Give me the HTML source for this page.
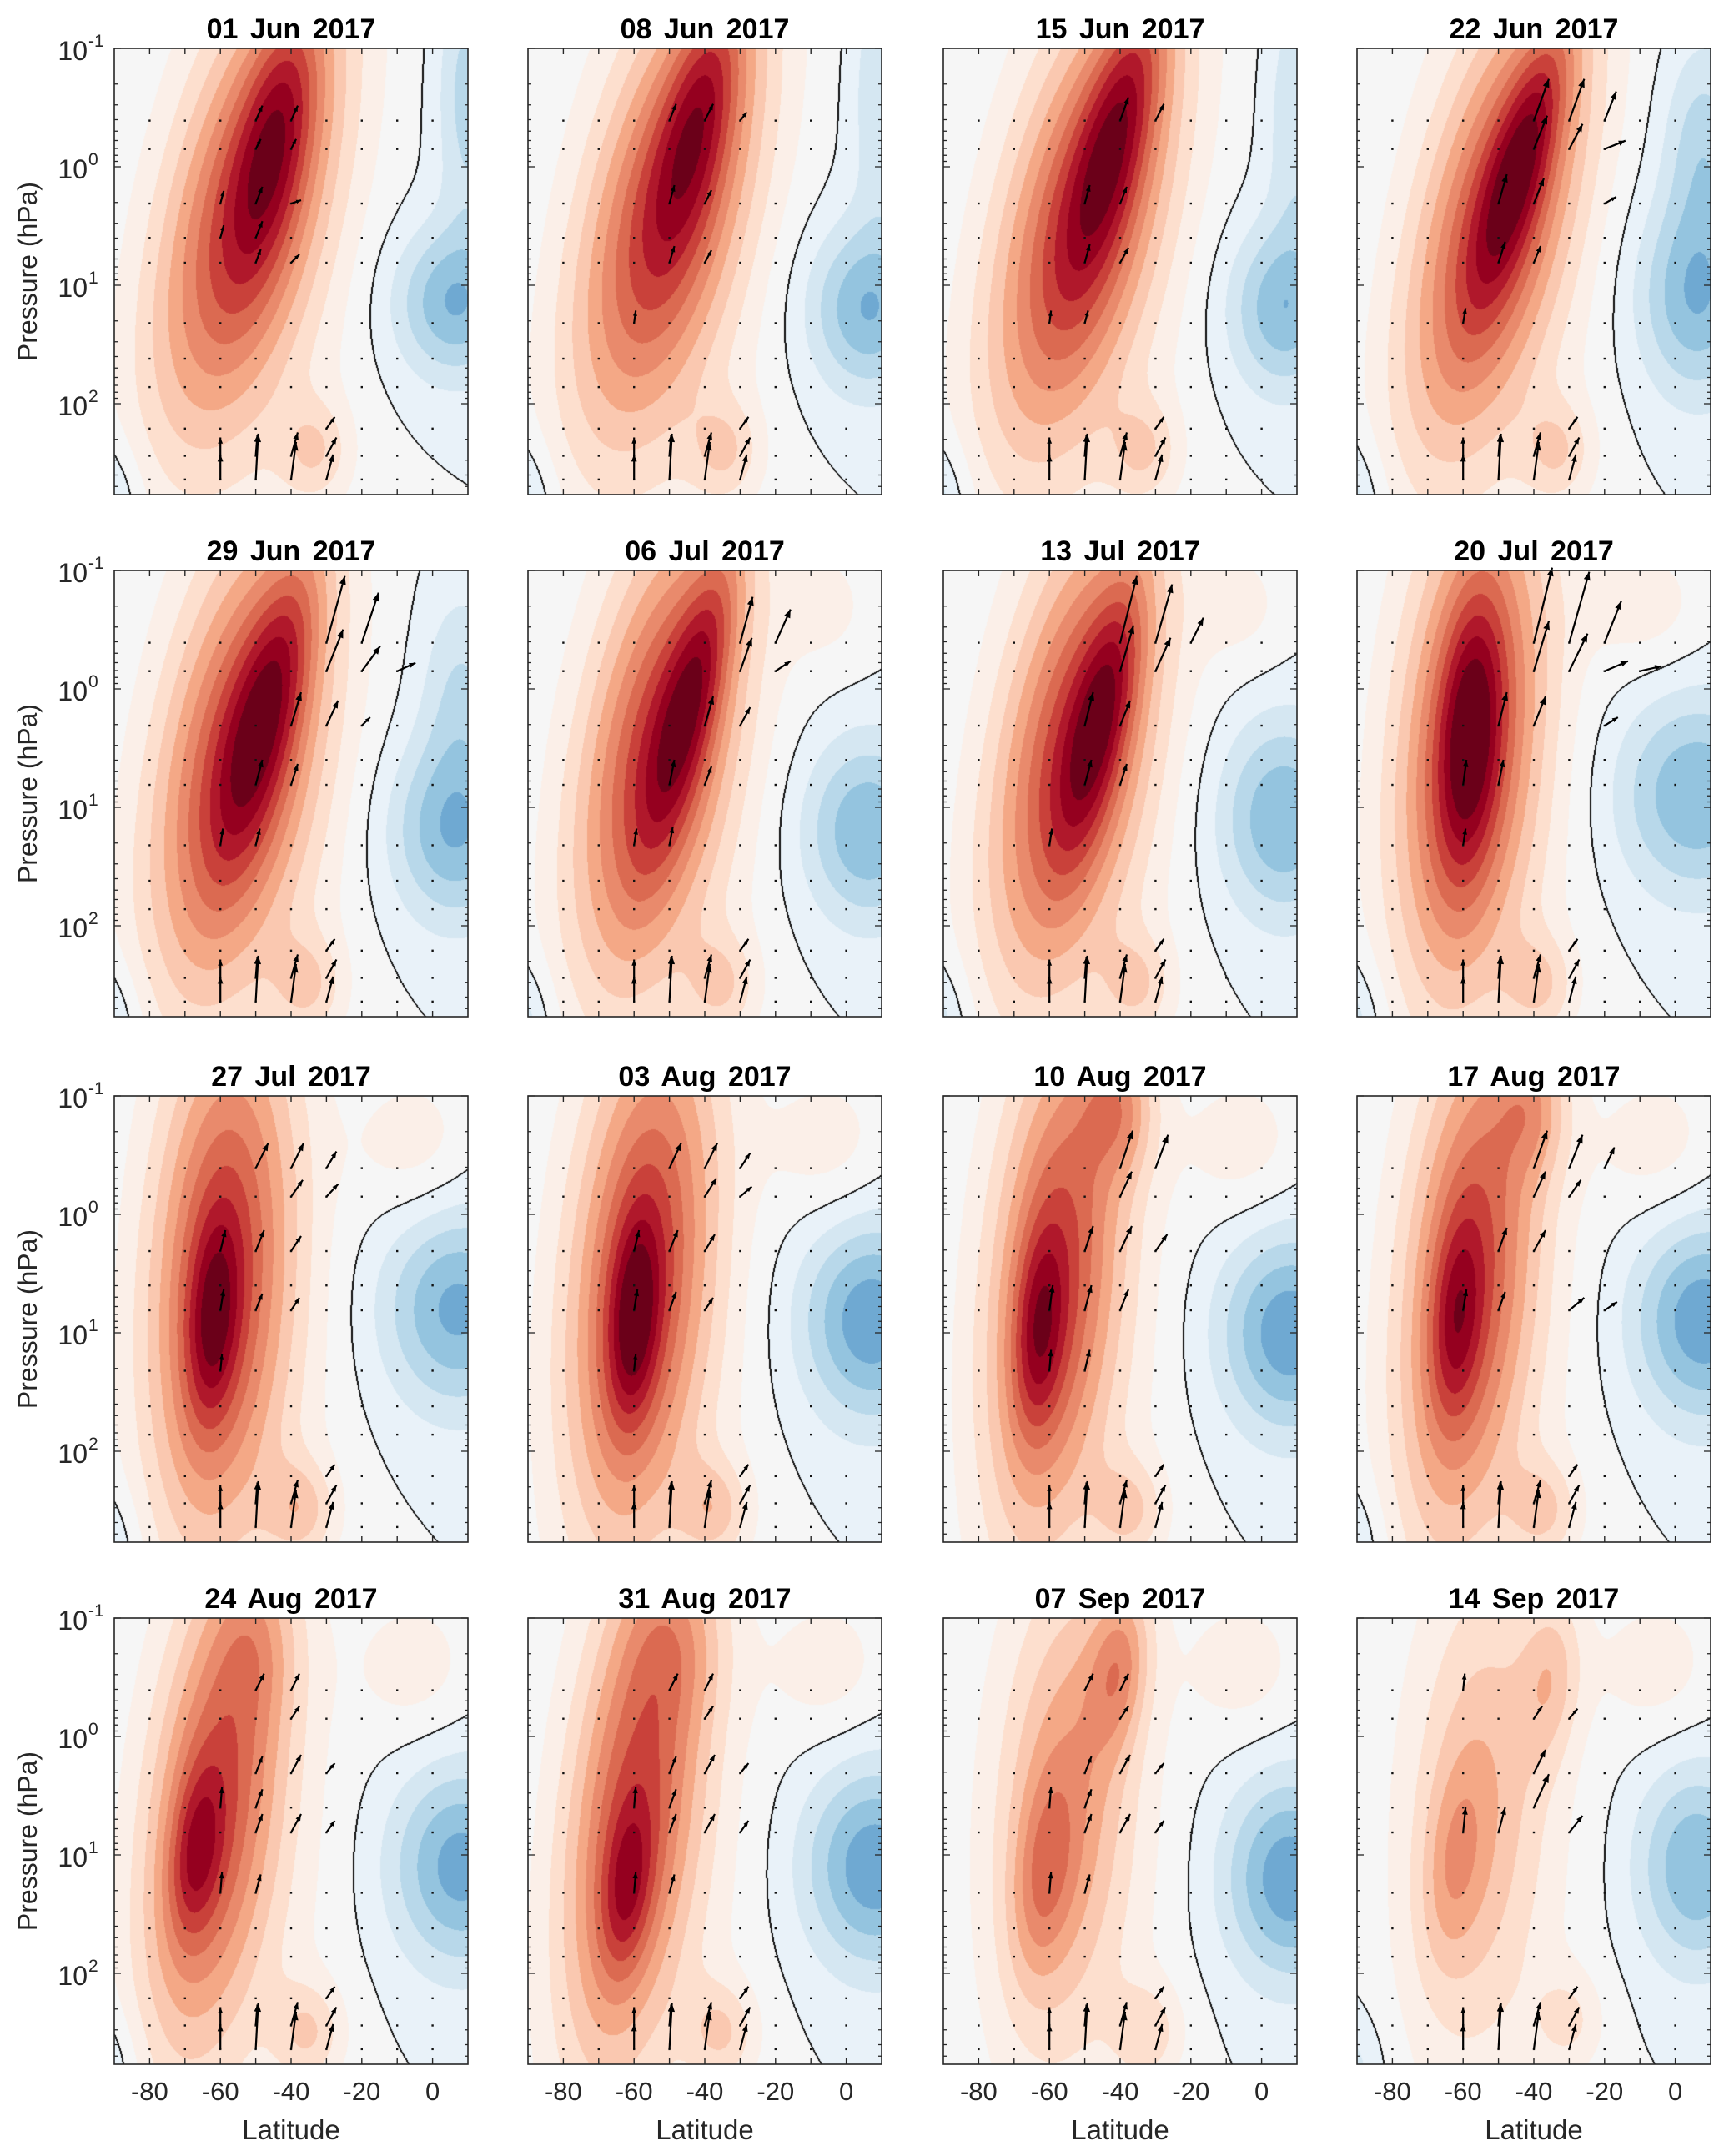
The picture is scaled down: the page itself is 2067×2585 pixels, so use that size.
<!DOCTYPE html>
<html><head><meta charset="utf-8">
<style>
html,body{margin:0;padding:0;background:#fff;}
#wrap{position:relative;width:2067px;height:2585px;overflow:hidden;}
canvas,svg{position:absolute;left:0;top:0;}
text{font-family:"Liberation Sans",Arial,sans-serif;}
</style></head>
<body>
<div id="wrap">
<canvas id="cv" width="2067" height="2585"></canvas>
<svg id="sv" width="2067" height="2585" xmlns="http://www.w3.org/2000/svg"></svg>
</div>
<script>
// ---- data ----
const titles = ["01 Jun 2017","08 Jun 2017","15 Jun 2017","22 Jun 2017","29 Jun 2017","06 Jul 2017","13 Jul 2017","20 Jul 2017","27 Jul 2017","03 Aug 2017","10 Aug 2017","17 Aug 2017","24 Aug 2017","31 Aug 2017","07 Sep 2017","14 Sep 2017"];
const xTicks = [-80,-60,-40,-20,0];
const yTickExp = [-1,0,1,2];
// blobs: [amplitude, lat, log10(p), sigmaLat, sigmaLogP, tilt]
const blobs = [
 [[3.5,-44,-0.3,7,0.8,-6],[6.5,-52,0.3,16,1.4,-8],[1.5,-50,1,20,2,0],[2.3,-33,2.4,7,0.3,0],[-4,6,1.15,12,0.45,0],[-2.5,-95,2.9,8,0.4,0],[-2.5,10,-0.6,6,0.8,0]],
 [[3.5,-41,-0.5,7,0.8,-7],[6.5,-50,0.3,16,1.4,-8],[1.5,-50,1,20,2,0],[2.3,-34,2.4,7,0.3,0],[-4,6,1.2,12,0.5,0],[-2.5,-95,2.9,8,0.4,0],[-2,10,-0.6,6,0.8,0]],
 [[4,-40,-0.4,7,0.9,-8],[6.5,-50,0.4,16,1.4,-8],[1.5,-50,1,20,2,0],[2.3,-33,2.4,7,0.3,0],[-3.8,6,1.2,11,0.5,0],[-2.5,-95,2.9,8,0.4,0],[-2,10,-0.4,6,0.8,0]],
 [[4,-43,-0.1,6,0.8,-9],[6.5,-50,0.4,15,1.4,-8],[1.5,-50,1,20,2,0],[2.3,-33,2.4,7,0.3,0],[-4,6,1.1,12,0.6,0],[-2.5,-95,2.9,8,0.4,0],[-2.5,8,-0.2,8,0.6,0]],
 [[4,-46,0.1,7,0.9,-8],[6.5,-55,0.6,16,1.4,-6],[1.5,-50,1,20,2,0],[2.3,-35,2.5,7,0.3,0],[-4,6,1.2,13,0.55,0],[-2.5,-95,2.9,8,0.4,0],[-2,8,0,8,0.6,0]],
 [[4,-43,0,6,0.9,-8],[6.5,-53,0.5,15,1.4,-6],[1.5,-50,1,20,2,0],[2.3,-35,2.5,7,0.3,0],[-4,6,1.2,13,0.55,0],[-2.5,-95,2.9,8,0.4,0],[1.2,-5,-0.7,10,0.4,0]],
 [[4,-45,0.2,6,0.8,-7],[6.5,-53,0.5,15,1.4,-6],[1.5,-50,1,20,2,0],[2.3,-35,2.5,7,0.3,0],[-4,6,1.1,13,0.6,0],[-2.5,-95,2.9,8,0.4,0],[1.2,-5,-0.7,10,0.4,0]],
 [[4,-58,0.4,6,0.8,-2],[6.5,-58,0.4,14,1.5,-3],[1.5,-55,1,20,2,0],[2.3,-38,2.5,7,0.3,0],[-4,6,0.9,16,0.6,0],[-2.5,-95,2.9,8,0.4,0],[1.5,-8,-0.7,12,0.4,0]],
 [[3.5,-62,0.9,5,0.6,-2],[6.5,-60,0.5,14,1.6,-2],[1.5,-55,1,20,2,0],[2.7,-37,2.5,7,0.3,0],[-4.3,7,0.8,15,0.6,0],[-2,-95,2.9,8,0.4,0],[1.5,-5,-0.6,12,0.45,0]],
 [[4,-60,0.9,5,0.6,-2],[6.5,-58,0.5,14,1.6,-3],[1.5,-55,1,20,2,0],[2.7,-37,2.5,7,0.3,0],[-4.8,7,0.9,14,0.6,0],[1.5,-5,-0.6,12,0.45,0]],
 [[3.5,-63,1.0,5,0.6,-2],[6,-58,0.5,13,1.6,-3],[3,-40,-0.9,7,0.4,0],[1.5,-55,1,20,2,0],[2.5,-37,2.5,7,0.3,0],[-4.8,8,1.0,14,0.6,0],[1.5,-5,-0.6,12,0.45,0]],
 [[3,-62,0.9,5,0.6,-2],[6,-58,0.5,13,1.6,-3],[2.5,-40,-0.9,7,0.4,0],[1.5,-55,1,20,2,0],[2.5,-37,2.5,7,0.3,0],[-4.8,8,0.9,14,0.6,0],[-2,-95,2.9,8,0.4,0],[1.5,-5,-0.6,12,0.45,0]],
 [[3,-67,1.0,5,0.5,-3],[6,-62,0.6,13,1.5,-4],[1.5,-50,-0.8,8,0.5,0],[1.5,-55,1,20,2,0],[2.5,-35,2.5,7,0.3,0],[-4.5,8,1.1,14,0.6,0],[-2,-95,2.9,8,0.4,0],[1.5,-5,-0.6,12,0.45,0]],
 [[3,-62,1.3,5,0.5,-3],[6,-60,0.6,13,1.6,-4],[1.5,-48,-0.8,10,0.5,0],[1.5,-55,1,20,2,0],[2.5,-35,2.5,7,0.3,0],[-4.8,8,1.1,14,0.6,0],[1.5,-5,-0.6,12,0.45,0]],
 [[3.5,-40,-0.6,6,0.5,-3],[2.5,-62,1.2,6,0.6,-3],[3.5,-55,0.5,13,1.4,-2],[1.5,-55,1,20,2,0],[2.2,-32,2.5,7,0.3,0],[-4.8,8,1.2,13,0.6,0],[1.5,-5,-0.6,12,0.45,0]],
 [[2.5,-35,-0.5,6,0.5,-2],[2,-63,1.1,6,0.6,-3],[2.5,-55,0.5,13,1.4,-2],[1.5,-55,1,20,2,0],[1.8,-30,2.4,7,0.3,0],[-4,6,1.1,12,0.6,0],[-2,-95,2.9,8,0.4,0],[1.5,-5,-0.6,12,0.45,0]]
];
const dotLats = [-80,-70,-60,-50,-40,-30,-20,-10,0];
const dotZs = [-0.39,-0.15,0.31,0.6,0.81,1.32,1.62,1.86,2.21,2.44,2.64];
// arrows: [lat, log10(p), u px, v px]
const baseArrows = [[-60,2.64,0,-30],[-60,2.44,0,-22],[-50,2.64,3,-55],[-50,2.44,2,-25],[-40,2.64,6,-45],[-40,2.44,8,-28],[-30,2.64,8,-30],[-30,2.44,12,-22],[-30,2.21,10,-14]];
const midSet = [[-50,-0.39,10,-20],[-40,-0.39,10,-20],[-40,-0.15,10,-15],[-50,0.31,8,-20],[-40,0.31,12,-22],[-30,0.31,10,-12],[-50,0.81,8,-22],[-40,0.81,12,-22],[-30,0.81,10,-14],[-60,1.32,2,-25],[-50,1.32,6,-22],[-60,0.6,2,-25],[-50,0.6,8,-22]];
const panelArrows = [
 [[-50,-0.39,8,-18],[-40,-0.39,8,-18],[-50,-0.15,6,-12],[-40,-0.15,6,-12],[-50,0.31,8,-20],[-60,0.31,4,-15],[-50,0.6,8,-20],[-60,0.6,4,-15],[-40,0.31,12,-4],[-40,0.81,10,-10],[-50,0.81,6,-16]],
 [[-50,-0.39,8,-20],[-40,-0.39,10,-20],[-30,-0.39,8,-10],[-50,0.31,6,-22],[-40,0.31,8,-16],[-50,0.81,6,-20],[-40,0.81,8,-15],[-60,1.32,2,-15]],
 [[-40,-0.39,10,-28],[-30,-0.39,10,-20],[-50,0.31,6,-22],[-40,0.31,8,-20],[-50,0.81,6,-22],[-40,0.81,10,-18],[-60,1.32,2,-15],[-50,1.32,4,-15]],
 [[-40,-0.39,18,-50],[-30,-0.39,18,-50],[-20,-0.39,14,-35],[-40,-0.15,16,-40],[-30,-0.15,16,-30],[-20,-0.15,25,-10],[-50,0.31,10,-35],[-40,0.31,12,-30],[-20,0.31,14,-8],[-50,0.81,8,-25],[-40,0.81,8,-20],[-60,1.32,3,-18]],
 [[-30,-0.39,22,-80],[-20,-0.39,20,-60],[-30,-0.15,20,-50],[-20,-0.15,22,-30],[-10,-0.15,22,-10],[-40,0.31,12,-40],[-30,0.31,14,-30],[-20,0.31,10,-10],[-50,0.81,8,-30],[-40,0.81,8,-25],[-60,1.32,3,-20],[-50,1.32,5,-20]],
 [[-30,-0.39,15,-55],[-20,-0.39,18,-40],[-30,-0.15,14,-40],[-20,-0.15,18,-12],[-40,0.31,10,-35],[-30,0.31,12,-22],[-50,0.81,6,-30],[-40,0.81,8,-22],[-60,1.32,3,-20],[-50,1.32,4,-22]],
 [[-40,-0.39,20,-80],[-30,-0.39,20,-70],[-20,-0.39,15,-30],[-40,-0.15,16,-55],[-30,-0.15,18,-40],[-50,0.31,10,-40],[-40,0.31,12,-30],[-50,0.81,8,-30],[-40,0.81,8,-25],[-60,1.32,3,-20]],
 [[-40,-0.39,22,-90],[-30,-0.39,24,-85],[-20,-0.39,20,-50],[-40,-0.15,18,-60],[-30,-0.15,22,-45],[-20,-0.15,28,-12],[-10,-0.15,26,-6],[-50,0.31,10,-40],[-40,0.31,14,-35],[-20,0.31,16,-10],[-60,0.81,4,-30],[-50,0.81,6,-30],[-60,1.32,3,-20]],
 [[-50,-0.39,15,-30],[-40,-0.39,15,-30],[-30,-0.39,12,-20],[-40,-0.15,14,-20],[-30,-0.15,14,-15],[-60,0.31,6,-25],[-50,0.31,10,-25],[-40,0.31,12,-18],[-60,0.81,4,-25],[-50,0.81,8,-20],[-40,0.81,10,-15],[-60,1.32,2,-20]],
 [[-50,-0.39,14,-30],[-40,-0.39,15,-30],[-30,-0.39,12,-18],[-40,-0.15,14,-22],[-30,-0.15,14,-12],[-60,0.31,6,-25],[-50,0.31,10,-25],[-40,0.31,12,-20],[-60,0.81,4,-25],[-50,0.81,8,-22],[-40,0.81,10,-15],[-60,1.32,2,-20]],
 [[-40,-0.39,15,-45],[-30,-0.39,15,-40],[-40,-0.15,14,-30],[-50,0.31,10,-30],[-40,0.31,14,-30],[-30,0.31,14,-20],[-60,0.81,4,-30],[-50,0.81,8,-30],[-40,0.81,10,-25],[-60,1.32,2,-25],[-50,1.32,6,-25]],
 [[-40,-0.39,16,-45],[-30,-0.39,16,-40],[-20,-0.39,12,-25],[-40,-0.15,14,-30],[-30,-0.15,14,-20],[-50,0.31,10,-28],[-40,0.31,14,-25],[-30,0.81,18,-15],[-20,0.81,15,-10],[-60,0.81,4,-25],[-50,0.81,8,-22]],
 midSet,
 midSet,
 midSet,
 [[-40,0.31,14,-28],[-40,0.6,18,-40],[-30,0.81,16,-20],[-60,0.81,3,-30],[-50,0.81,8,-30],[-60,-0.39,2,-20],[-40,-0.15,10,-15],[-30,-0.15,10,-12]]
];
const POS = ["#f6f6f6","#fbefe8","#fddfce","#fac8b0","#f4a886","#e98a6c","#db6a51","#c9413a","#b0182b","#95001f","#6b0019"];
const NEG = ["#e9f2f9","#d5e7f2","#b8d8ea","#94c4df","#6fa9d2"];
// ---- layout ----
const colL = [137,633,1131,1627], rowT = [58,684,1314,1940];
const PW = 424, PH = 535, DEC = 142;
const LAT0 = -90, LAT1 = 10, Z0 = -1;
function xOf(p, lat){ return colL[p%4] + (lat-LAT0)/(LAT1-LAT0)*PW; }
function yOf(p, z){ return rowT[Math.floor(p/4)] + (z-Z0)*DEC; }
function field(b, lat, z){
  let v = 0;
  for (const [A,cl,cz,sl,sz,t] of b){
    const dl = (lat - (cl + t*(z-cz)))/sl, dz = (z-cz)/sz;
    v += A*Math.exp(-0.5*(dl*dl+dz*dz));
  }
  return v;
}
function hex(h){ return [parseInt(h.slice(1,3),16),parseInt(h.slice(3,5),16),parseInt(h.slice(5,7),16)]; }
const POSR = POS.map(hex), NEGR = NEG.map(hex);
// ---- canvas fields ----
const cv = document.getElementById('cv'), ctx = cv.getContext('2d');
ctx.fillStyle = '#fff'; ctx.fillRect(0,0,2067,2585);
for (let p=0;p<16;p++){
  const img = ctx.createImageData(PW, PH), d = img.data;
  const vals = new Float32Array(PW*PH);
  for (let j=0;j<PH;j++){
    const z = Z0 + (j+0.5)/DEC;
    for (let i=0;i<PW;i++){
      const lat = LAT0 + (i+0.5)/PW*(LAT1-LAT0);
      vals[j*PW+i] = field(blobs[p], lat, z);
    }
  }
  for (let j=0;j<PH;j++) for (let i=0;i<PW;i++){
    const k = j*PW+i, v = vals[k];
    let c;
    if (v>=0) c = POSR[Math.min(10,Math.floor(v))]; else c = NEGR[Math.min(4,Math.floor(-v))];
    const s = v>=0;
    let edge = false;
    if (i>0 && (vals[k-1]>=0)!==s) edge=true;
    else if (i<PW-1 && (vals[k+1]>=0)!==s) edge=true;
    else if (j>0 && (vals[k-PW]>=0)!==s) edge=true;
    else if (j<PH-1 && (vals[k+PW]>=0)!==s) edge=true;
    if (edge) c = [15,15,15];
    d[k*4]=c[0]; d[k*4+1]=c[1]; d[k*4+2]=c[2]; d[k*4+3]=255;
  }
  ctx.putImageData(img, colL[p%4], rowT[Math.floor(p/4)]);
}
// ---- svg overlay ----
const NS = 'http://www.w3.org/2000/svg', sv = document.getElementById('sv');
function mk(tag, attrs, parent){
  const e = document.createElementNS(NS, tag);
  for (const k in attrs) e.setAttribute(k, attrs[k]);
  (parent||sv).appendChild(e); return e;
}
for (let p=0;p<16;p++){
  const c = p%4, r = Math.floor(p/4), L = colL[c], T = rowT[r];
  const g = mk('g', {});
  
  
  const t = mk('text', {x:L+PW/2, y:T-12, 'text-anchor':'middle', 'font-size':34, 'font-weight':'bold', 'word-spacing':'5'}, g);
  t.textContent = titles[p];
  
  
  for (const la of dotLats) for (const z of dotZs){
    const dt = mk('rect', {x:xOf(p,la)-1.2, y:yOf(p,z)-1.2, width:2.4, height:2.4, fill:'#111'}, g);
    
    
  }
  const arr = baseArrows.concat(panelArrows[p]);
  for (const [la,z,u,v] of arr){
    const x0 = xOf(p,la), y0 = yOf(p,z), x1 = x0+u, y1 = y0+v;
    const a = mk('g', {}, g);
    
    
    mk('line', {x1:x0, y1:y0, x2:x1, y2:y1, stroke:'#000', 'stroke-width':2.2}, a);
    const len = Math.hypot(u,v)||1, ux = u/len, uy = v/len, hs = Math.min(10, 4+len*0.15);
    const bx = x1-ux*hs, by = y1-uy*hs;
    mk('polygon', {points:`${x1},${y1} ${bx-uy*hs*0.4},${by+ux*hs*0.4} ${bx+uy*hs*0.4},${by-ux*hs*0.4}`, fill:'#000'}, a);
  }
  const fr = mk('rect', {x:L, y:T, width:PW, height:PH, fill:'none', stroke:'#262626', 'stroke-width':1.6}, g);
  
  
  for (let la=-80; la<=0; la+=10){
    const x = xOf(p,la);
    mk('line', {x1:x, y1:T+PH, x2:x, y2:T+PH-7, stroke:'#262626', 'stroke-width':1.4}, g);
    mk('line', {x1:x, y1:T, x2:x, y2:T+7, stroke:'#262626', 'stroke-width':1.4}, g);
  }
  for (let e=-1; e<=2; e++){
    for (let m=1; m<=9; m++){
      const z = e + Math.log10(m);
      if (z > Z0 + PH/DEC) continue;
      const y = yOf(p,z), len = m===1 ? 8 : 4;
      mk('line', {x1:L, y1:y, x2:L+len, y2:y, stroke:'#262626', 'stroke-width':1.3}, g);
      mk('line', {x1:L+PW, y1:y, x2:L+PW-len, y2:y, stroke:'#262626', 'stroke-width':1.3}, g);
    }
  }
  if (c===0){
    for (const e of yTickExp){
      const y = yOf(p,e);
      const tl = mk('text', {x:L-32, y:y+14, 'text-anchor':'end', 'font-size':32, fill:'#262626'}, g);
      tl.textContent = '10';
      
      
      const sp = mk('text', {x:L-31, y:y-2, 'text-anchor':'start', 'font-size':21, fill:'#262626'}, g);
      sp.textContent = String(e);
      
      
    }
    const yl = mk('text', {x:0, y:0, 'text-anchor':'middle', 'font-size':32, fill:'#262626', transform:`translate(44,${T+PH/2}) rotate(-90)`}, g);
    yl.textContent = 'Pressure (hPa)';
    
    
  }
  if (r===3){
    for (const la of xTicks){
      const xl = mk('text', {x:xOf(p,la), y:T+PH+43, 'text-anchor':'middle', 'font-size':31, fill:'#262626'}, g);
      xl.textContent = String(la);
      
      
    }
    const xt = mk('text', {x:L+PW/2, y:T+PH+90, 'text-anchor':'middle', 'font-size':33, fill:'#262626'}, g);
    xt.textContent = 'Latitude';
    
    
  }
}
</script>
</body></html>
